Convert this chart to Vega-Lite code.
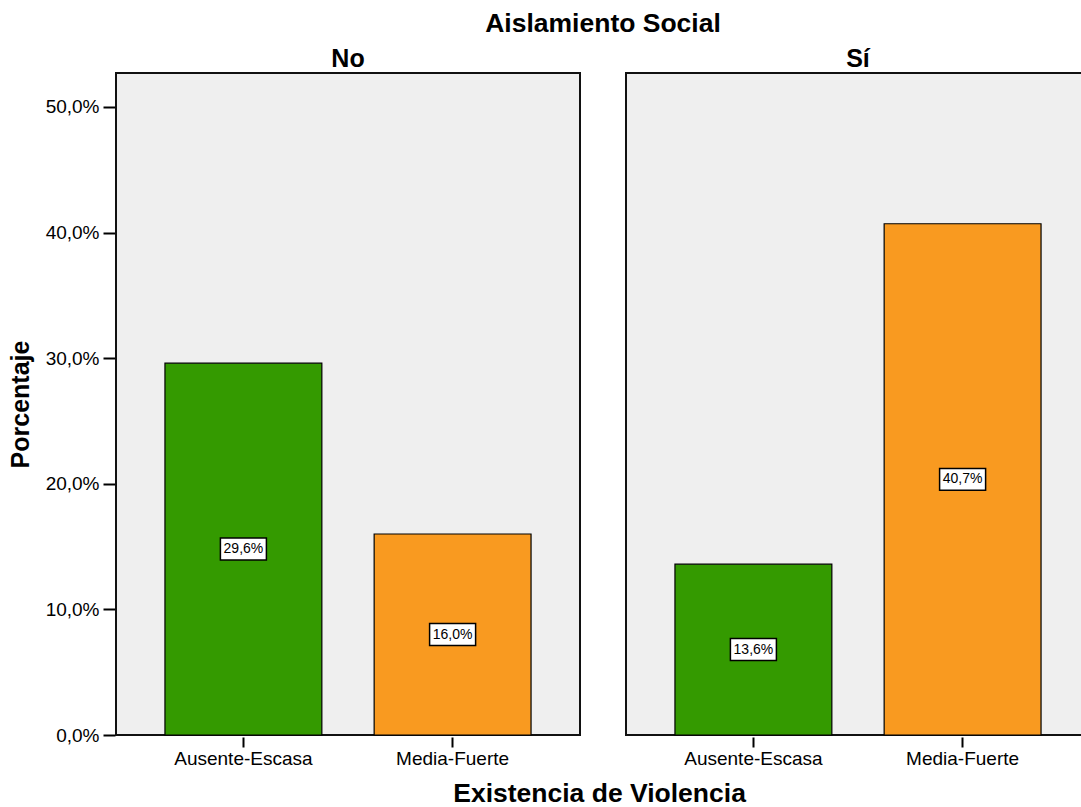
{
  "$schema": "https://vega.github.io/schema/vega-lite/v6.json",
  "padding": {"left": 8, "top": 10, "right": 0, "bottom": 5},
  "background": "white",
  "data": {
    "values": [
      {"aislamiento": "No", "violencia": "Ausente-Escasa", "pct": 29.6, "etiqueta": "29,6%"},
      {"aislamiento": "No", "violencia": "Media-Fuerte", "pct": 16.0, "etiqueta": "16,0%"},
      {"aislamiento": "Sí", "violencia": "Ausente-Escasa", "pct": 13.6, "etiqueta": "13,6%"},
      {"aislamiento": "Sí", "violencia": "Media-Fuerte", "pct": 40.7, "etiqueta": "40,7%"}
    ]
  },
  "transform": [{"calculate": "datum.pct / 2", "as": "mitad"}],
  "facet": {
    "column": {
      "field": "aislamiento",
      "type": "nominal",
      "sort": ["No", "Sí"],
      "title": "Aislamiento Social",
      "header": {
        "titleFont": "Liberation Sans",
        "titleFontSize": 26.5,
        "titleFontWeight": "bold",
        "titleColor": "black",
        "titlePadding": 0,
        "labelFont": "Liberation Sans",
        "labelFontSize": 25,
        "labelFontWeight": "bold",
        "labelColor": "black",
        "labelPadding": 0
      }
    }
  },
  "spacing": 44,
  "spec": {
    "width": 464,
    "height": 662,
    "layer": [
      {
        "mark": {"type": "bar", "stroke": "black", "strokeWidth": 1.2},
        "encoding": {
          "x": {
            "field": "violencia",
            "type": "nominal",
            "sort": ["Ausente-Escasa", "Media-Fuerte"],
            "scale": {"paddingInner": 0.25, "paddingOuter": 0.234},
            "axis": {"title": null, "labelAngle": 0, "tickSize": 10, "labelPadding": 2, "domain": false}
          },
          "y": {
            "field": "pct",
            "type": "quantitative",
            "scale": {"domain": [0, 52.7], "nice": false},
            "axis": {
              "title": "Porcentaje",
              "values": [0, 10, 20, 30, 40, 50],
              "labelExpr": "replace(format(datum.value, '.1f'), '.', ',') + '%'",
              "tickSize": 12,
              "labelPadding": 4,
              "domain": false,
              "grid": false,
              "titlePadding": 12
            }
          },
          "color": {
            "field": "violencia",
            "type": "nominal",
            "scale": {"domain": ["Ausente-Escasa", "Media-Fuerte"], "range": ["#349A00", "#F99A20"]},
            "legend": null
          }
        }
      },
      {
        "mark": {
          "type": "point",
          "shape": "M-1,-0.478L1,-0.478L1,0.478L-1,0.478Z",
          "filled": true,
          "fill": "white",
          "stroke": "black",
          "strokeWidth": 1.5,
          "size": 2116,
          "opacity": 1
        },
        "encoding": {
          "x": {"field": "violencia", "type": "nominal", "sort": ["Ausente-Escasa", "Media-Fuerte"]},
          "y": {"field": "mitad", "type": "quantitative"}
        }
      },
      {
        "mark": {"type": "text", "font": "Liberation Sans", "fontSize": 14, "color": "black", "baseline": "middle", "align": "center"},
        "encoding": {
          "x": {"field": "violencia", "type": "nominal", "sort": ["Ausente-Escasa", "Media-Fuerte"]},
          "y": {"field": "mitad", "type": "quantitative"},
          "text": {"field": "etiqueta", "type": "nominal"}
        }
      }
    ]
  },
  "title": {
    "text": "Existencia de Violencia",
    "orient": "bottom",
    "anchor": "middle",
    "font": "Liberation Sans",
    "fontSize": 26.5,
    "fontWeight": "bold",
    "color": "black",
    "offset": 13,
    "dx": 50
  },
  "config": {
    "view": {"fill": "#EFEFEF", "stroke": "#111111", "strokeWidth": 2},
    "axis": {
      "labelFont": "Liberation Sans",
      "labelFontSize": 19,
      "labelColor": "black",
      "tickColor": "black",
      "tickWidth": 2,
      "titleFont": "Liberation Sans",
      "titleFontSize": 25,
      "titleFontWeight": "bold",
      "titleColor": "black"
    }
  }
}
